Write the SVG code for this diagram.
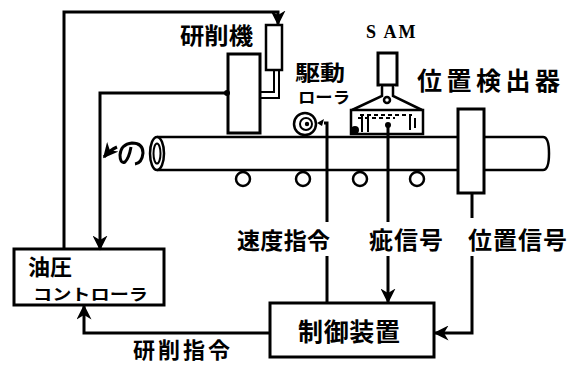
<svg xmlns="http://www.w3.org/2000/svg" width="576" height="365" viewBox="0 0 576 365">
  <style>
    .ln { fill: none; stroke: #000; stroke-width: 3; stroke-linejoin: miter; }
    .thin { fill: none; stroke: #000; stroke-width: 2; }
    .box { fill: #fff; stroke: #000; stroke-width: 3; }
    .part { fill: #fff; stroke: #000; stroke-width: 2.5; }
    .jp { font-family: "Noto Sans CJK JP", "Noto Sans", sans-serif; font-weight: bold; fill: #000; }
    .lat { font-family: "Liberation Serif", serif; font-weight: bold; fill: #000; }
  </style>
  <defs>
    <marker id="arr" viewBox="0 0 10 10" refX="9" refY="5" markerWidth="5" markerHeight="5" markerUnits="strokeWidth" orient="auto">
      <path d="M0,0 L10,5 L0,10 L3,5 Z" fill="#000"/>
    </marker>
  </defs>

  <rect width="576" height="365" fill="#fff"/>

  <!-- pipe -->
  <g id="pipe">
    <path class="part" d="M157,137 H543 Q549,137 549,153.5 Q549,170 543,170 H157" stroke-width="3"/>
    <ellipse class="part" cx="157" cy="153.5" rx="7" ry="16.5" stroke-width="3"/>
    <ellipse class="thin" cx="157" cy="153.5" rx="3.5" ry="10"/>
  </g>

  <!-- support rollers under the pipe -->
  <g id="support-rollers">
    <circle class="part" cx="243" cy="179" r="7" stroke-width="3"/>
    <circle class="part" cx="303" cy="179" r="7" stroke-width="3"/>
    <circle class="part" cx="360" cy="179" r="7" stroke-width="3"/>
    <circle class="part" cx="417" cy="179" r="7" stroke-width="3"/>
  </g>

  <!-- rotation mark -->
  <g id="rotation">
    <path class="ln" stroke-width="3.5" d="M131,147 Q129,158 125,162 Q120,164 120,155 Q121,144 132,143 Q143,143 143,153 Q142,163 135,164"/>
    <path class="ln" d="M117,147 Q110,150 104,157" marker-end="url(#arr)"/>
  </g>

  <!-- grinder -->
  <g id="grinder">
    <rect class="box" x="228" y="54" width="32" height="79"/>
    <circle cx="227" cy="93" r="3" fill="#000"/>
    <rect class="part" x="266" y="25" width="16" height="45"/>
    <path class="thin" d="M274,70 V92 H261 M279,70 V98 H261"/>
    <text class="jp" x="180" y="44" font-size="23" textLength="73" lengthAdjust="spacingAndGlyphs">研削機</text>
  </g>

  <!-- drive roller -->
  <g id="drive-roller">
    <circle class="part" cx="305" cy="124" r="11"/>
    <circle class="thin" cx="306" cy="124" r="6"/>
    <circle cx="307" cy="124" r="2.2" fill="#000"/>
    <path d="M317,123 L324,119 L322,126 Z" fill="#000"/>
    <text class="jp" x="295" y="80" font-size="21" textLength="50" lengthAdjust="spacingAndGlyphs">駆動</text>
    <text class="jp" x="298" y="103" font-size="16" textLength="52" lengthAdjust="spacingAndGlyphs">ローラ</text>
  </g>

  <!-- SAM flaw detector -->
  <g id="sam">
    <rect class="box" x="378" y="53" width="19" height="32"/>
    <path class="part" d="M382,85 V96 L352,110 M393,85 V96 L422,110"/>
    <circle class="part" cx="387" cy="100" r="3"/>
    <path class="part" d="M351,110 H423 V134 H351 Z"/>
    <path class="thin" d="M360,115 H412 M358,118 H395" stroke-dasharray="4,3"/>
    <circle cx="355" cy="130" r="4" fill="#000"/>
    <path class="thin" d="M362,116 V132 M368,116 V132 M410,116 V130 M415,118 V128"/>
    <circle cx="388" cy="125" r="3" fill="#000"/>
    <text class="lat" x="366" y="38" font-size="18" letter-spacing="2">S AM</text>
  </g>

  <!-- position detector -->
  <g id="position-detector">
    <rect class="box" x="458" y="109" width="26" height="84"/>
    <text class="jp" x="417" y="90" font-size="25" textLength="143" lengthAdjust="spacing">位置検出器</text>
  </g>

  <!-- hydraulic controller -->
  <g id="hydraulic-controller">
    <rect class="box" x="14" y="249" width="150" height="56"/>
    <text class="jp" x="28" y="275" font-size="22">油圧</text>
    <text class="jp" x="33" y="300" font-size="16" textLength="115" lengthAdjust="spacingAndGlyphs">コントローラ</text>
  </g>

  <!-- control unit -->
  <g id="control-unit">
    <rect class="box" x="270" y="303" width="164" height="54"/>
    <text class="jp" x="298" y="341" font-size="25" textLength="102" lengthAdjust="spacing">制御装置</text>
  </g>

  <!-- connectors -->
  <g id="connectors">
    <path class="ln" d="M64,248 V12 H278 V24" marker-end="url(#arr)"/>
    <path class="ln" d="M226,93 H100 V249" marker-end="url(#arr)"/>
    <path class="ln" d="M324,123 H327 V222 M327,256 V303"/>
    <path class="ln" d="M388,125 V222"/>
    <path class="ln" d="M388,256 V302" marker-end="url(#arr)"/>
    <path class="ln" d="M472,193 V218"/>
    <path class="ln" d="M472,256 V333 H435" marker-end="url(#arr)"/>
    <path class="ln" d="M270,333 H84 V306" marker-end="url(#arr)"/>
  </g>

  <!-- signal labels -->
  <g id="labels">
    <text class="jp" x="237" y="249" font-size="23" textLength="93" lengthAdjust="spacing">速度指令</text>
    <text class="jp" x="369" y="249" font-size="24" textLength="74" lengthAdjust="spacing">疵信号</text>
    <text class="jp" x="468" y="249" font-size="24" textLength="99" lengthAdjust="spacing">位置信号</text>
    <text class="jp" x="133" y="358" font-size="22" textLength="97" lengthAdjust="spacing">研削指令</text>
  </g>
</svg>
